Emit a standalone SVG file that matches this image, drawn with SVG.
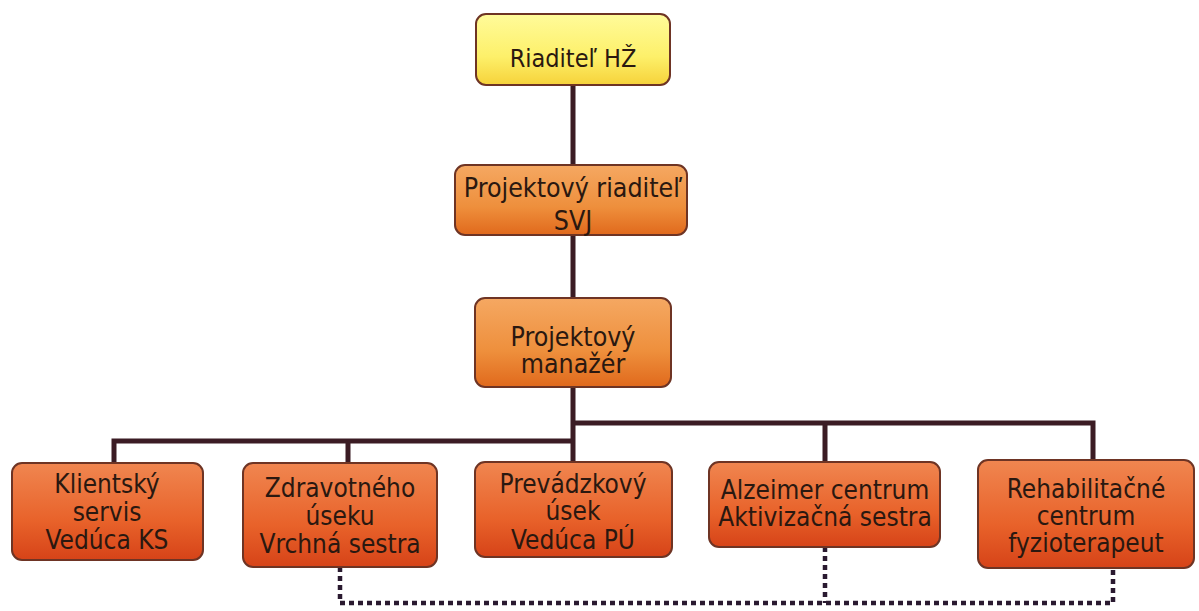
<svg xmlns="http://www.w3.org/2000/svg" width="1199" height="611" viewBox="0 0 1199 611">
<defs>
<linearGradient id="gY" x1="0" y1="0" x2="0" y2="1">
<stop offset="0" stop-color="#fffb9a"/><stop offset="0.6" stop-color="#fdf06a"/><stop offset="1" stop-color="#f6d23a"/>
</linearGradient>
<linearGradient id="gO" x1="0" y1="0" x2="0" y2="1">
<stop offset="0" stop-color="#f5a862"/><stop offset="0.6" stop-color="#ee8f3c"/><stop offset="1" stop-color="#e0691c"/>
</linearGradient>
<linearGradient id="gR" x1="0" y1="0" x2="0" y2="1">
<stop offset="0" stop-color="#f08650"/><stop offset="0.6" stop-color="#e8622a"/><stop offset="1" stop-color="#d64318"/>
</linearGradient>
</defs>
<style>
.box{stroke:#6e3424;stroke-width:2}
.y{fill:url(#gY)}
.o{fill:url(#gO)}
.r{fill:url(#gR)}
text{font-family:"DejaVu Sans Condensed","DejaVu Sans","Liberation Sans",sans-serif;font-stretch:condensed;fill:#2a1810;text-anchor:middle}
.t1{font-size:25px}
.t2{font-size:26.5px}
.t3{font-size:26px}
.solid{fill:none;stroke:#3b1c24;stroke-width:5}
.dot{fill:none;stroke:#2a1a30;stroke-width:4.5;stroke-dasharray:5 4}
</style>
<rect width="1199" height="611" fill="#ffffff"/>
<g id="connectors">
<path class="solid" d="M573 85V462"/>
<path class="solid" d="M573 441H114V463M348 441V463"/>
<path class="solid" d="M573 423H1093V460M825 423V462"/>
<path class="dot" d="M340 567V603H1113V556M825 547V603"/>
</g>
<g id="n1">
<rect class="box y" x="476" y="14" width="194" height="71" rx="10"/>
<text class="t1" x="573" y="67">Riaditeľ HŽ</text>
</g>
<g id="n2">
<rect class="box o" x="455" y="165" width="232" height="70" rx="10"/>
<text class="t2" x="573" y="197">Projektový riaditeľ</text>
<text class="t2" x="573" y="230">SVJ</text>
</g>
<g id="n3">
<rect class="box o" x="475" y="298" width="196" height="89" rx="10"/>
<text class="t2" x="573" y="346">Projektový</text>
<text class="t2" x="573" y="373">manažér</text>
</g>
<g id="n4">
<rect class="box r" x="12" y="463" width="191" height="97" rx="10"/>
<text class="t3" x="107" y="493">Klientský</text>
<text class="t3" x="107" y="521">servis</text>
<text class="t3" x="107" y="549">Vedúca KS</text>
</g>
<g id="n5">
<rect class="box r" x="243" y="463" width="194" height="104" rx="10"/>
<text class="t3" x="340" y="497">Zdravotného</text>
<text class="t3" x="340" y="525">úseku</text>
<text class="t3" x="340" y="553">Vrchná sestra</text>
</g>
<g id="n6">
<rect class="box r" x="475" y="462" width="197" height="95" rx="10"/>
<text class="t3" x="573" y="493">Prevádzkový</text>
<text class="t3" x="573" y="520">úsek</text>
<text class="t3" x="573" y="549">Vedúca PÚ</text>
</g>
<g id="n7">
<rect class="box r" x="709" y="462" width="231" height="85" rx="10"/>
<text class="t3" x="825" y="499">Alzeimer centrum</text>
<text class="t3" x="825" y="526">Aktivizačná sestra</text>
</g>
<g id="n8">
<rect class="box r" x="978" y="460" width="216" height="108" rx="10"/>
<text class="t3" x="1086" y="498">Rehabilitačné</text>
<text class="t3" x="1086" y="525">centrum</text>
<text class="t3" x="1086" y="552">fyzioterapeut</text>
</g>
</svg>
